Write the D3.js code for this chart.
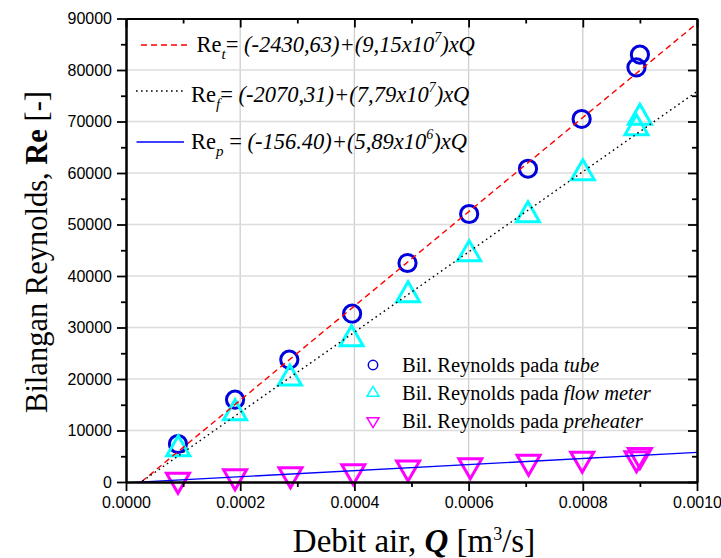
<!DOCTYPE html>
<html>
<head>
<meta charset="utf-8">
<script src="https://cdn.jsdelivr.net/npm/d3@7"></script>
<style>
  body { margin: 0; background: #fff; }
  text { white-space: pre; }
</style>
</head>
<body>
<div id="chart"></div>
<script>
// Data
var qTube = [0.000091, 0.000191, 0.000286, 0.000396, 0.000493, 0.000601, 0.000704, 0.000798, 0.000894, 0.0009]
var reTube = [7380, 15980, 23750, 32680, 42520, 52040, 60830, 70490, 80500, 82970]

var qFlow = [0.0000915, 0.000191, 0.000287, 0.000395, 0.000494, 0.000601, 0.000704, 0.0008, 0.000894, 0.0009]
var reFlow = [6410, 13400, 20120, 27770, 36310, 44270, 51840, 60000, 68740, 70740]

var qPre = [0.000091, 0.000191, 0.000288, 0.000398, 0.000494, 0.000603, 0.000705, 0.000799, 0.000894, 0.0009]
var rePre = [400, 1090, 1480, 2060, 2800, 3240, 3900, 4500, 4600, 5200]

// fit lines: Re = a + b*Q
var fits = [
  {name: 't', a: -2430.63, b: 9.15e7, color: 'red', dash: '6,4', coef: '(-2430,63)+(9,15x10', exp: '7', eq: '= '},
  {name: 'f', a: -2070.31, b: 7.79e7, color: 'black', dash: '1.6,3.4', coef: '(-2070,31)+(7,79x10', exp: '7', eq: '= '},
  {name: 'p', a: -156.40, b: 5.89e6, color: '#0000ff', dash: null, coef: '(-156.40)+(5,89x10', exp: '6', eq: ' = '}
]

var xMajor = [0, 0.0002, 0.0004, 0.0006, 0.0008, 0.001]
var xMinor = [0.0001, 0.0003, 0.0005, 0.0007, 0.0009]
var yMajor = [0, 10000, 20000, 30000, 40000, 50000, 60000, 70000, 80000, 90000]
var yMinor = [5000, 15000, 25000, 35000, 45000, 55000, 65000, 75000, 85000]

var legendNames = ['tube', 'flow meter', 'preheater']

var width = 721, height = 558
var pLeft = 126, pRight = 697, pTop = 18.5, pBottom = 482

var xScale = d3.scaleLinear().domain([0, 0.001]).range([pLeft, pRight])
var yScale = d3.scaleLinear().domain([0, 90000]).range([pBottom, pTop])

var svg = d3.select('#chart').append('svg')
  .attr('width', width)
  .attr('height', height)
  .style('font-family', 'Liberation Serif, Times New Roman, serif')

svg.append('rect').attr('width', width).attr('height', height).attr('fill', '#fff')

svg.append('clipPath').attr('id', 'plotClip')
  .append('rect')
  .attr('x', pLeft).attr('y', pTop)
  .attr('width', pRight - pLeft).attr('height', pBottom - pTop)

// grid
var grid = svg.append('g')
grid.selectAll('.gx').data(xMajor.slice(1, -1)).enter().append('line')
  .attr('x1', d => xScale(d)).attr('x2', d => xScale(d))
  .attr('y1', pTop).attr('y2', pBottom)
  .attr('stroke', '#cfcfcf').attr('stroke-width', 1.3)
grid.selectAll('.gy').data(yMajor.slice(1, -1)).enter().append('line')
  .attr('x1', pLeft).attr('x2', pRight)
  .attr('y1', d => yScale(d)).attr('y2', d => yScale(d))
  .attr('stroke', '#dcdcdc').attr('stroke-width', 1.6)

// markers
var markers = svg.append('g')
function triPath(w, h, down) {
  // centroid at origin
  if (!down) return 'M0,' + (-2 * h / 3) + 'L' + (w / 2) + ',' + (h / 3) + 'L' + (-w / 2) + ',' + (h / 3) + 'Z'
  return 'M0,' + (2 * h / 3) + 'L' + (w / 2) + ',' + (-h / 3) + 'L' + (-w / 2) + ',' + (-h / 3) + 'Z'
}

markers.selectAll('.pre').data(d3.range(qPre.length)).enter().append('path')
  .attr('d', triPath(23, 20, true))
  .attr('transform', i => 'translate(' + xScale(qPre[i]) + ',' + yScale(rePre[i]) + ')')
  .attr('fill', 'none').attr('stroke', '#ff00ff').attr('stroke-width', 3)

markers.selectAll('.tube').data(d3.range(qTube.length)).enter().append('circle')
  .attr('cx', i => xScale(qTube[i])).attr('cy', i => yScale(reTube[i]))
  .attr('r', 8.6)
  .attr('fill', 'none').attr('stroke', '#0000dd').attr('stroke-width', 3)

markers.selectAll('.flow').data(d3.range(qFlow.length)).enter().append('path')
  .attr('d', triPath(23, 20, false))
  .attr('transform', i => 'translate(' + xScale(qFlow[i]) + ',' + yScale(reFlow[i]) + ')')
  .attr('fill', 'none').attr('stroke', '#00ffff').attr('stroke-width', 3)

// fit lines
var lineGen = d3.line().x(d => xScale(d.q)).y(d => yScale(d.re))
svg.append('g').attr('clip-path', 'url(#plotClip)')
  .selectAll('path').data(fits).enter().append('path')
  .attr('d', f => lineGen([{q: 0, re: f.a}, {q: 0.001, re: f.a + f.b * 0.001}]))
  .attr('fill', 'none')
  .attr('stroke', f => f.color)
  .attr('stroke-width', f => f.name === 'p' ? 1.3 : 1.4)
  .attr('stroke-dasharray', f => f.dash)

// axes
function styleAxis(g) {
  g.select('.domain').attr('stroke-width', 2)
  g.selectAll('.tick line').attr('stroke-width', 1.8)
  g.selectAll('.tick text')
    .style('font-family', 'Liberation Sans, Arial, sans-serif')
    .style('font-size', '16px')
    .attr('fill', '#000')
}

var xFmt = d3.format('.4f')
svg.append('g').attr('transform', 'translate(0,' + pBottom + ')')
  .call(d3.axisBottom(xScale).tickValues(xMinor).tickSize(5).tickSizeOuter(0).tickFormat(''))
  .call(styleAxis)
svg.append('g').attr('transform', 'translate(0,' + pBottom + ')')
  .call(d3.axisBottom(xScale).tickValues(xMajor).tickSize(9).tickSizeOuter(0).tickPadding(6).tickFormat(xFmt))
  .call(styleAxis)

svg.append('g').attr('transform', 'translate(0,' + pTop + ')')
  .call(d3.axisTop(xScale).tickValues(xMinor).tickSize(-5).tickSizeOuter(0).tickFormat(''))
  .call(styleAxis)
svg.append('g').attr('transform', 'translate(0,' + pTop + ')')
  .call(d3.axisTop(xScale).tickValues(xMajor).tickSize(-9).tickSizeOuter(0).tickFormat(''))
  .call(styleAxis)

svg.append('g').attr('transform', 'translate(' + pLeft + ',0)')
  .call(d3.axisLeft(yScale).tickValues(yMinor).tickSize(5).tickSizeOuter(0).tickFormat(''))
  .call(styleAxis)
svg.append('g').attr('transform', 'translate(' + pLeft + ',0)')
  .call(d3.axisLeft(yScale).tickValues(yMajor).tickSize(9).tickSizeOuter(0).tickPadding(5).tickFormat(d3.format('d')))
  .call(styleAxis)

svg.append('g').attr('transform', 'translate(' + pRight + ',0)')
  .call(d3.axisRight(yScale).tickValues(yMinor).tickSize(-5).tickSizeOuter(0).tickFormat(''))
  .call(styleAxis)
svg.append('g').attr('transform', 'translate(' + pRight + ',0)')
  .call(d3.axisRight(yScale).tickValues(yMajor).tickSize(-9).tickSizeOuter(0).tickFormat(''))
  .call(styleAxis)

// axis titles
var yt = svg.append('text')
  .attr('transform', 'translate(47,252) rotate(-90)')
  .attr('text-anchor', 'middle')
  .style('font-size', '30.5px')
yt.append('tspan').text('Bilangan Reynolds, ')
yt.append('tspan').attr('font-weight', 'bold').text('Re')
yt.append('tspan').text(' [-]')

var xt = svg.append('text')
  .attr('x', 414).attr('y', 552)
  .attr('text-anchor', 'middle')
  .style('font-size', '33px')
xt.append('tspan').text('Debit air, ')
xt.append('tspan').attr('font-weight', 'bold').attr('font-style', 'italic').text('Q')
xt.append('tspan').text(' [m')
xt.append('tspan').attr('dy', -12).style('font-size', '18px').text('3')
xt.append('tspan').attr('dy', 12).text('/s]')

// fit equations legend
var eqRows = [
  {y: 45, x0: 141, x1: 190, tx: 196.5, base: 51.7},
  {y: 91, x0: 136, x1: 185, tx: 191, base: 101.5},
  {y: 142, x0: 136.5, x1: 184, tx: 191, base: 149}
]
fits.forEach(function(f, i) {
  var r = eqRows[i]
  svg.append('line')
    .attr('x1', r.x0).attr('x2', r.x1).attr('y1', r.y).attr('y2', r.y)
    .attr('stroke', f.color).attr('stroke-width', 1.4)
    .attr('stroke-dasharray', f.dash)
  var t = svg.append('text').attr('x', r.tx).attr('y', r.base).style('font-size', '22.5px')
  t.append('tspan').text('Re')
  t.append('tspan').attr('dy', 7).attr('font-style', 'italic').style('font-size', '15px').text(f.name)
  t.append('tspan').attr('dy', -7).text(f.eq)
  t.append('tspan').attr('font-style', 'italic').text(f.coef)
  t.append('tspan').attr('dy', -10).attr('font-style', 'italic').style('font-size', '14px').text(f.exp)
  t.append('tspan').attr('dy', 10).attr('font-style', 'italic').text(')xQ')
})

// marker legend
var legRows = [365, 393, 421]
var lg = svg.append('g')
lg.append('circle').attr('cx', 373).attr('cy', legRows[0]).attr('r', 4.7)
  .attr('fill', 'none').attr('stroke', '#0000dd').attr('stroke-width', 1.5)
lg.append('path').attr('d', triPath(12, 10, false))
  .attr('transform', 'translate(373,' + legRows[1] + ')')
  .attr('fill', 'none').attr('stroke', '#00ffff').attr('stroke-width', 1.5)
lg.append('path').attr('d', triPath(12, 10, true))
  .attr('transform', 'translate(373,' + legRows[2] + ')')
  .attr('fill', 'none').attr('stroke', '#ff00ff').attr('stroke-width', 1.5)

legendNames.forEach(function(n, i) {
  var t = lg.append('text').attr('x', 402).attr('y', legRows[i] + 7).style('font-size', '20.5px')
  t.append('tspan').text('Bil. Reynolds pada ')
  t.append('tspan').attr('font-style', 'italic').text(n)
})
</script>
</body>
</html>
